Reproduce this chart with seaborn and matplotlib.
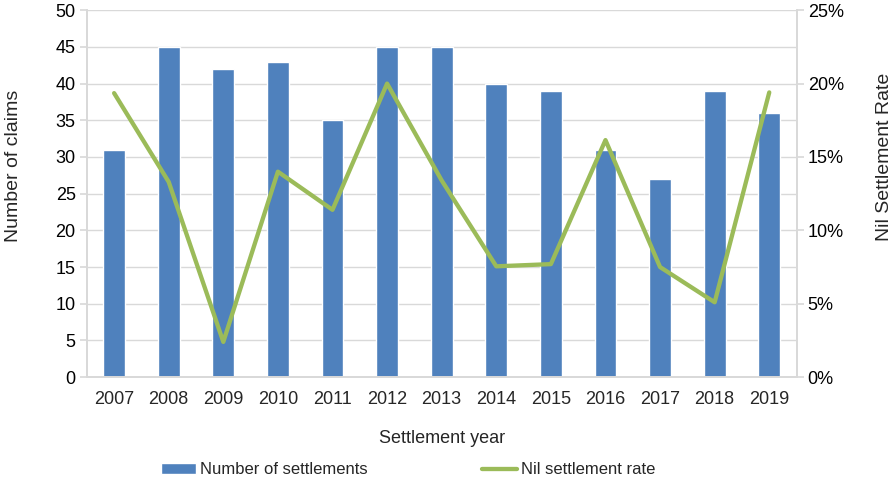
import matplotlib
matplotlib.use("Agg")
import matplotlib.pyplot as plt
import seaborn as sns
import pandas as pd
from matplotlib.ticker import FuncFormatter, MultipleLocator, FixedLocator

years = ["2007", "2008", "2009", "2010", "2011", "2012", "2013",
         "2014", "2015", "2016", "2017", "2018", "2019"]
settlements = [31, 45, 42, 43, 35, 45, 45, 40, 39, 31, 27, 39, 36]
nil_rate = [0.1935, 0.133, 0.024, 0.140, 0.114, 0.200, 0.134,
            0.0755, 0.077, 0.1615, 0.075, 0.051, 0.194]

df = pd.DataFrame({"year": years, "settlements": settlements, "rate": nil_rate})

sns.set_theme(style="white")
plt.rcParams["font.family"] = ["Liberation Sans", "DejaVu Sans"]

bar_color = "#4F81BD"
line_color = "#9BBB59"
grid_color = "#D9D9D9"

fig = plt.figure(figsize=(8.95, 4.86), dpi=100)
ax = fig.add_axes([0.097, 0.224, 0.793, 0.755])

sns.barplot(data=df, x="year", y="settlements", color=bar_color, width=0.4,
            saturation=1, ax=ax, label="Number of settlements", legend=False)
ax.set_ylim(0, 50)
ax.yaxis.set_major_locator(MultipleLocator(5))
ax.set_xlim(-0.5, len(years) - 0.5)
ax.grid(axis="y", color=grid_color, linewidth=1)
ax.set_axisbelow(True)

ax2 = ax.twinx()
sns.lineplot(data=df, x="year", y="rate", color=line_color, linewidth=3.1,
             ax=ax2, label="Nil settlement rate", legend=False)
ax2.set_ylim(0, 0.25)
ax2.yaxis.set_major_locator(MultipleLocator(0.05))
ax2.yaxis.set_major_formatter(FuncFormatter(lambda v, p: f"{v*100:.0f}%"))
ax2.set_xlim(-0.5, len(years) - 0.5)

for a in (ax, ax2):
    for s in a.spines.values():
        s.set_color(grid_color)
    a.spines["top"].set_visible(False)
    a.tick_params(axis="y", length=5, color=grid_color, labelsize=13, pad=3,
                  labelcolor="black")

ax.xaxis.set_minor_locator(FixedLocator([i - 0.5 for i in range(len(years) + 1)]))
ax.tick_params(axis="x", which="major", length=0, labelsize=13, pad=10)
ax.tick_params(axis="x", which="minor", length=5, color=grid_color, direction="out")

ax.set_xlabel("Settlement year", fontsize=13, labelpad=16)
ax.set_ylabel("Number of claims", fontsize=14)
ax2.set_ylabel("Nil Settlement Rate", fontsize=14)
ax.yaxis.set_label_coords(-0.092, 0.575)
ax2.yaxis.set_label_coords(1.112, 0.6)

h1, l1 = ax.get_legend_handles_labels()
h2, l2 = ax2.get_legend_handles_labels()
fig.legend(h1 + h2, l1 + l2, loc="center", bbox_to_anchor=(0.456, 0.033),
           ncol=2, frameon=False, fontsize=12, columnspacing=6.9,
           handlelength=2.1, handleheight=0.6, handletextpad=0.2,
           borderpad=0, borderaxespad=0)

fig.savefig("out.png", dpi=100)
